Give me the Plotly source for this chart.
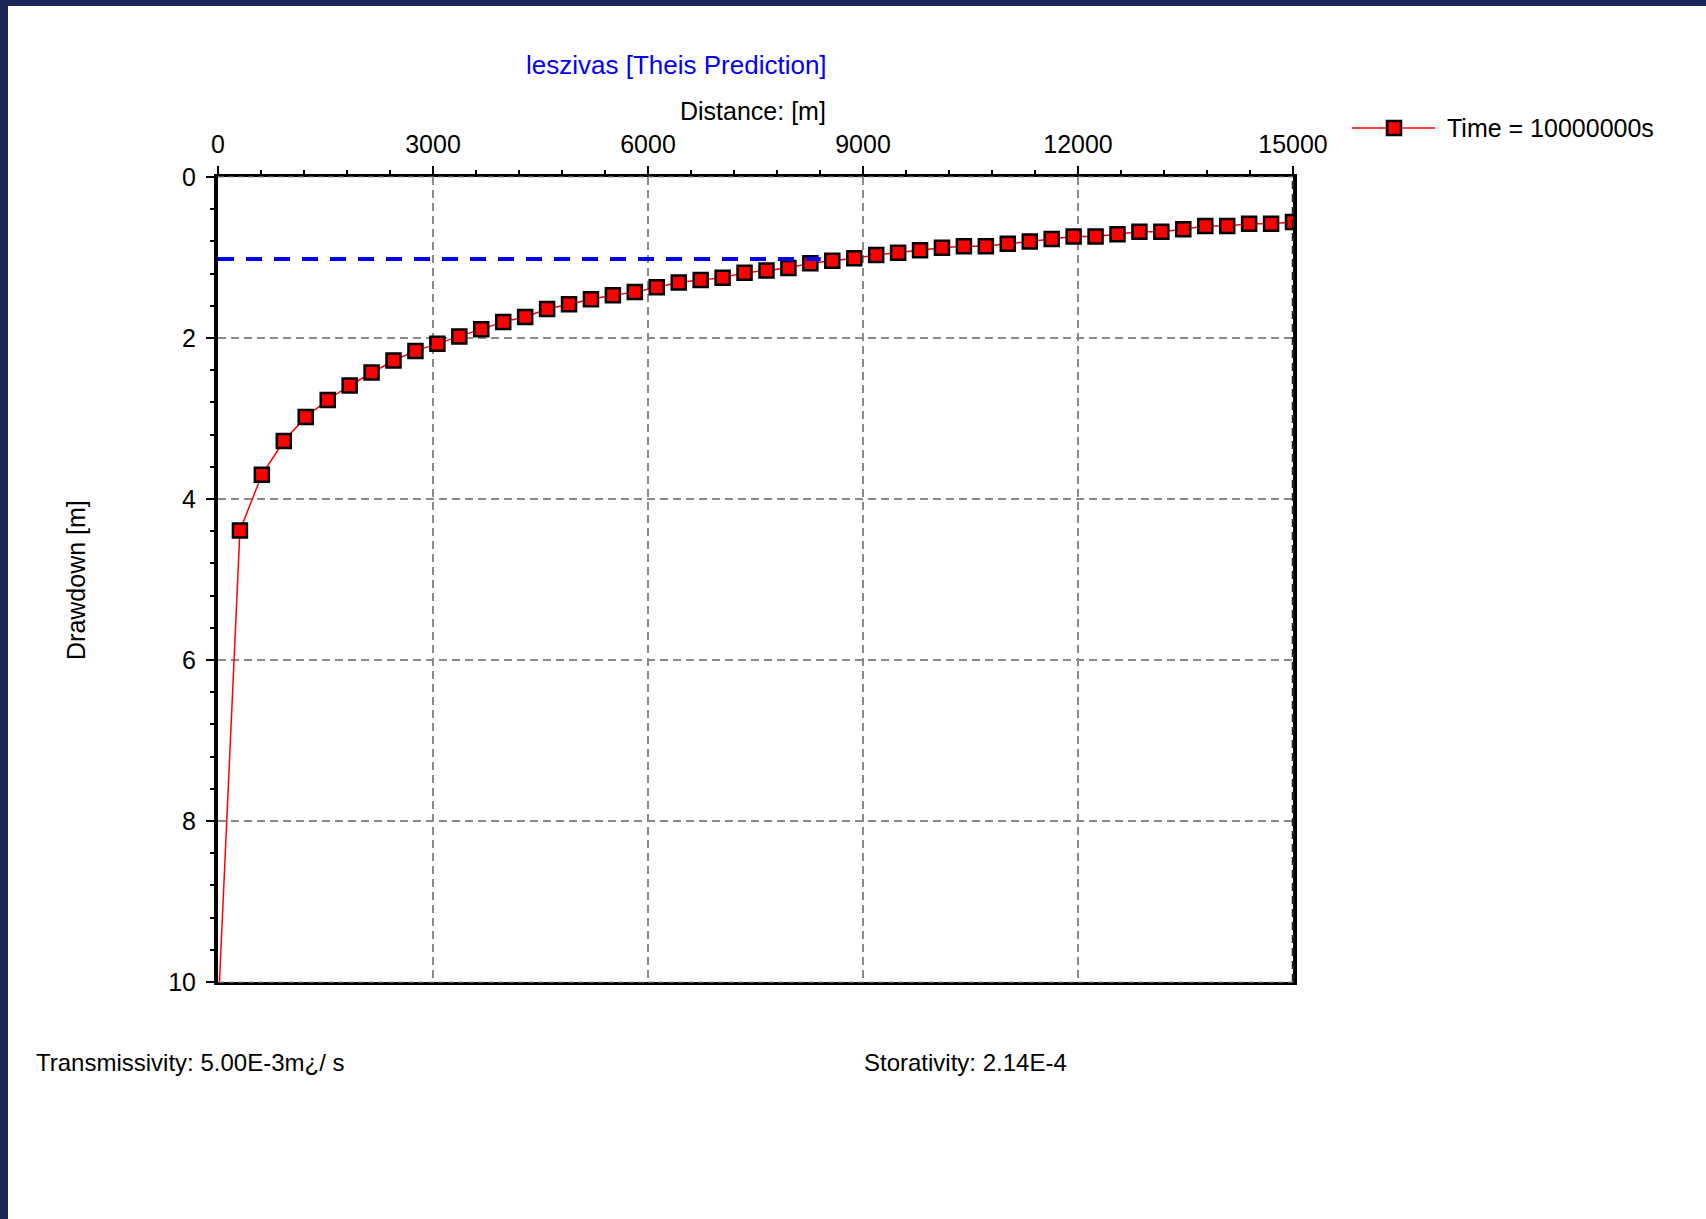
import plotly.graph_objects as go

# Theis drawdown prediction along a radial profile (t = 1e7 s)
distance = [0, 306, 612, 918, 1224, 1531, 1837, 2143, 2449, 2755, 3061, 3367, 3673,
            3980, 4286, 4592, 4898, 5204, 5510, 5816, 6122, 6429, 6735, 7041, 7347,
            7653, 7959, 8265, 8571, 8878, 9184, 9490, 9796, 10102, 10408, 10714,
            11020, 11327, 11633, 11939, 12245, 12551, 12857, 13163, 13469, 13776,
            14082, 14388, 14694, 15000]
drawdown = [10.4, 4.39, 3.70, 3.28, 2.98, 2.77, 2.59, 2.43, 2.28, 2.16, 2.07, 1.98,
            1.89, 1.80, 1.74, 1.64, 1.58, 1.52, 1.47, 1.43, 1.37, 1.31, 1.28, 1.25,
            1.19, 1.16, 1.13, 1.07, 1.04, 1.01, 0.97, 0.94, 0.91, 0.88, 0.86, 0.86,
            0.83, 0.80, 0.77, 0.74, 0.74, 0.71, 0.68, 0.68, 0.65, 0.61, 0.61, 0.58,
            0.58, 0.56]

# drawdown limit line
limit_x = [0, 8410]
limit_y = [1.02, 1.02]

x_ticks = [0, 3000, 6000, 9000, 12000, 15000]
x_tick_labels = ["0", "3000", "6000", "9000", "12000", "15000"]
y_ticks = [0, 2, 4, 6, 8, 10]
y_tick_labels = ["0", "2", "4", "6", "8", "10"]

series_name = "Time = 10000000s"
chart_title = "leszivas [Theis Prediction]"
x_title = "Distance: [m]"
y_title = "Drawdown [m]"
transmissivity_text = "Transmissivity: 5.00E-3m¿/ s"
storativity_text = "Storativity: 2.14E-4"

W, H = 1706, 1219
L, R, T, B = 218, 1293, 177, 982  # plot area in pixels


def px(v):
    return (v - L) / (R - L)


def py(v):
    return (B - v) / (B - T)


FONT = "Arial, Liberation Sans, sans-serif"

fig = go.Figure()
fig.add_trace(go.Scatter(
    x=distance, y=drawdown, mode="lines+markers", name=series_name,
    line=dict(color="#ff0000", width=1.5),
    marker=dict(symbol="square", size=14, color="#ff0000",
                line=dict(color="black", width=2.5)),
    showlegend=False, cliponaxis=True,
))
fig.add_trace(go.Scatter(
    x=limit_x, y=limit_y, mode="lines",
    line=dict(color="#0000ff", width=4, dash="16px,12px"),
    showlegend=False, hoverinfo="skip",
))

axis_common = dict(
    showline=True, linecolor="black", mirror=True,
    ticks="outside", ticklen=8, tickwidth=1.5, tickcolor="black",
    showgrid=True, gridcolor="#8a8a8a", gridwidth=1.5, griddash="8px,5px",
    zeroline=False,
    tickfont=dict(family=FONT, size=25, color="black"),
)

fig.update_layout(
    width=W, height=H,
    margin=dict(l=L, r=W - R, t=T, b=H - B, pad=0),
    paper_bgcolor="white", plot_bgcolor="white",
    font=dict(family=FONT, color="black"),
    xaxis=dict(side="top", range=[0, 15000], tickvals=x_ticks,
               ticktext=x_tick_labels, linewidth=3, ticklabelstandoff=3,
               minor=dict(dtick=600, ticks="outside", ticklen=4,
                          tickcolor="black", showgrid=False),
               **axis_common),
    yaxis=dict(range=[10, 0], tickvals=y_ticks, ticktext=y_tick_labels,
               linewidth=4, ticklabelstandoff=5,
               minor=dict(dtick=0.4, ticks="outside", ticklen=4,
                          tickcolor="black", showgrid=False),
               **axis_common),
)

shapes = []
# window frame bands
frame = "#1b2659"
shapes.append(dict(type="rect", xref="paper", yref="paper", layer="above",
                   x0=px(0), x1=px(8), y0=py(H), y1=py(0),
                   fillcolor=frame, line=dict(width=0)))
shapes.append(dict(type="rect", xref="paper", yref="paper", layer="above",
                   x0=px(0), x1=px(W), y0=py(6), y1=py(0),
                   fillcolor=frame, line=dict(width=0)))
# dashed right border and dashed overlay on top/bottom axes
shapes.append(dict(type="line", xref="paper", yref="paper", layer="above",
                   x0=1, x1=1, y0=0, y1=1,
                   line=dict(color="#222222", width=2.5, dash="8px,5px")))
for yy in (0, 1):
    shapes.append(dict(type="line", xref="paper", yref="paper", layer="above",
                       x0=0, x1=1, y0=yy, y1=yy,
                       line=dict(color="#9a9a9a", width=1, dash="6px,4px")))
# legend sample
shapes.append(dict(type="line", xref="paper", yref="paper",
                   x0=px(1352), x1=px(1435), y0=py(128), y1=py(128),
                   line=dict(color="#ff0000", width=1.5)))
shapes.append(dict(type="rect", xref="paper", yref="paper",
                   x0=px(1387), x1=px(1401), y0=py(135), y1=py(121),
                   fillcolor="#ff0000", line=dict(color="black", width=2.5)))
fig.update_layout(shapes=shapes)

annotations = [
    dict(text=chart_title, x=px(676), y=py(65), xanchor="center", yanchor="middle",
         font=dict(family=FONT, size=26, color="#0000ff")),
    dict(text=x_title, x=px(753), y=py(111), xanchor="center", yanchor="middle",
         font=dict(family=FONT, size=25, color="black")),
    dict(text=y_title, x=px(76), y=py(580), xanchor="center", yanchor="middle",
         textangle=-90, font=dict(family=FONT, size=25, color="black")),
    dict(text=series_name, x=px(1445), y=py(128), xanchor="left", yanchor="middle",
         font=dict(family=FONT, size=25, color="black")),
    dict(text=transmissivity_text, x=px(34), y=py(1062), xanchor="left",
         yanchor="middle", font=dict(family=FONT, size=24, color="black")),
    dict(text=storativity_text, x=px(862), y=py(1062), xanchor="left",
         yanchor="middle", font=dict(family=FONT, size=24, color="black")),
]
for a in annotations:
    a.update(xref="paper", yref="paper", showarrow=False)
fig.update_layout(annotations=annotations)

fig.write_html("out.html")
